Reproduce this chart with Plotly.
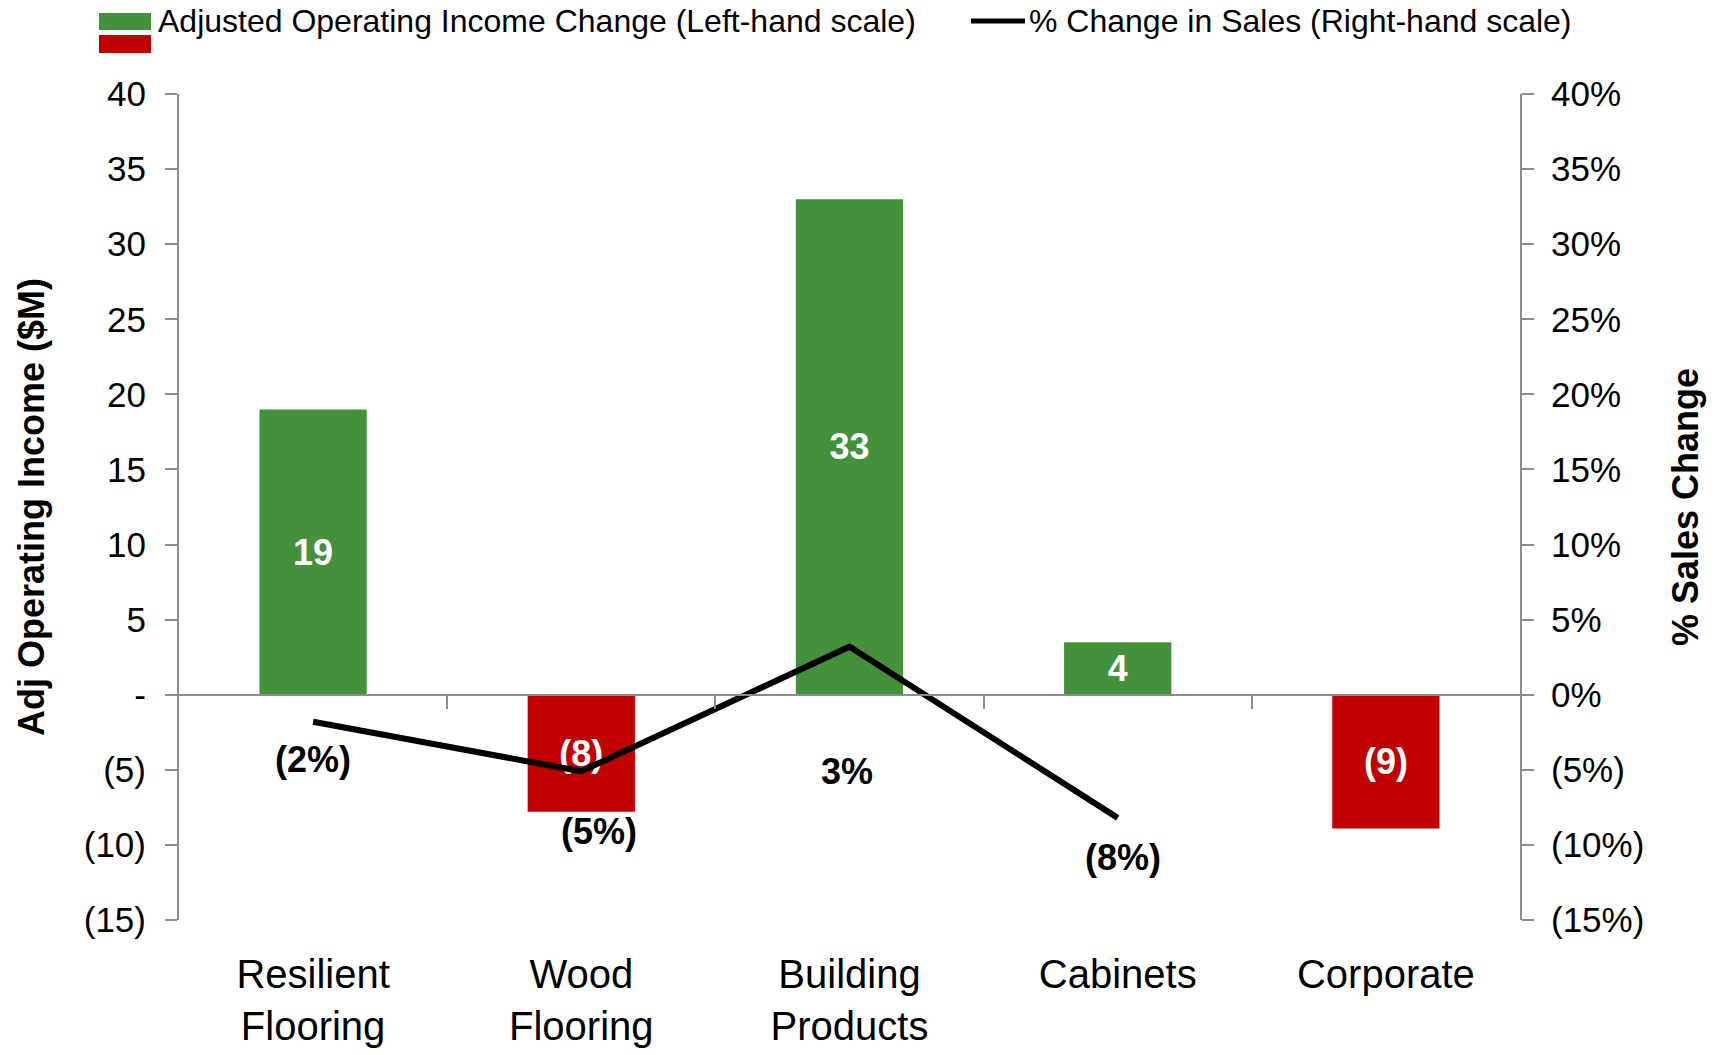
import plotly.graph_objects as go

# ---------------- data ----------------
categories = ["Resilient<br>Flooring", "Wood<br>Flooring", "Building<br>Products", "Cabinets", "Corporate"]
income_change = [19, -7.8, 33, 3.5, -8.9]            # $M, left-hand scale
sales_categories = categories[:4]
sales_change_pct = [-1.8, -5.1, 3.2, -8.2]          # %, right-hand scale

left_tickvals = [40, 35, 30, 25, 20, 15, 10, 5, 0, -5, -10, -15]
left_ticktext = ["40", "35", "30", "25", "20", "15", "10", "5", "-", "(5)", "(10)", "(15)"]
right_tickvals = [40, 35, 30, 25, 20, 15, 10, 5, 0, -5, -10, -15]
right_ticktext = ["40%", "35%", "30%", "25%", "20%", "15%", "10%", "5%", "0%", "(5%)", "(10%)", "(15%)"]

legend_bar_text = "Adjusted Operating Income Change (Left-hand scale)"
legend_line_text = "% Change in Sales (Right-hand scale)"
left_title = "Adj Operating Income ($M)"
right_title = "% Sales Change"

# ---------------- style ----------------
GREEN = "#43913A"
RED = "#C00000"
GRAY = "#8C8C8C"
FONT = "Liberation Sans, Arial, Helvetica, sans-serif"
W, H = 1723, 1055
L, R, T, B = 179, 203, 94, 135
Y_MIN, Y_MAX = -15, 40

# pixel offsets for the % labels (xshift, yshift)
pct_label_offsets = [(0, -38), (18, -60), (-3, -125), (5, -40)]


def fmt_num(v):
    r = round(v)
    return f"({abs(r)})" if r < 0 else f"{r}"


def fmt_pct(v):
    r = round(v)
    return f"({abs(r)}%)" if r < 0 else f"{r}%"


def px_x(px):
    return (px - L) / (W - L - R)


def px_y(py):
    return (H - B - py) / (H - T - B)


bar_colors = [GREEN if v >= 0 else RED for v in income_change]

fig = go.Figure()

fig.add_trace(go.Bar(
    x=categories, y=income_change,
    marker=dict(color=bar_colors, line=dict(width=0)),
    width=0.4,
    text=[fmt_num(v) for v in income_change],
    textposition="inside", insidetextanchor="middle",
    textfont=dict(family=FONT, size=36, color="white", weight="bold"),
    textangle=0,
    showlegend=False, hoverinfo="skip",
))

fig.add_trace(go.Scatter(
    x=sales_categories, y=sales_change_pct, yaxis="y2",
    mode="lines", line=dict(color="black", width=6),
    showlegend=False, hoverinfo="skip",
))

# empty trace to make the zero-crossing category axis render
fig.add_trace(go.Scatter(x=[None], y=[None], xaxis="x2", mode="lines", showlegend=False, hoverinfo="skip"))

annotations = []
for cat, v, (dx, dy) in zip(sales_categories, sales_change_pct, pct_label_offsets):
    annotations.append(dict(
        x=cat, y=v, xref="x", yref="y2", text=fmt_pct(v), showarrow=False,
        xshift=dx, yshift=dy,
        font=dict(family=FONT, size=36, color="black", weight="bold"),
    ))

# axis titles
annotations.append(dict(
    x=px_x(31), y=0.5, xref="paper", yref="paper", text=left_title, showarrow=False,
    textangle=-90, font=dict(family=FONT, size=36, color="black", weight="bold"),
    xanchor="center", yanchor="middle",
))
annotations.append(dict(
    x=px_x(1685), y=0.5, xref="paper", yref="paper", text=right_title, showarrow=False,
    textangle=-90, font=dict(family=FONT, size=36, color="black", weight="bold"),
    xanchor="center", yanchor="middle",
))

# legend texts
annotations.append(dict(
    x=px_x(156), y=px_y(21), xref="paper", yref="paper", text=legend_bar_text, showarrow=False,
    xanchor="left", yanchor="middle", font=dict(family=FONT, size=32, color="black"),
))
annotations.append(dict(
    x=px_x(1027), y=px_y(21), xref="paper", yref="paper", text=legend_line_text, showarrow=False,
    xanchor="left", yanchor="middle", font=dict(family=FONT, size=32, color="black"),
))

shapes = [
    dict(type="rect", xref="paper", yref="paper", x0=px_x(99), x1=px_x(151), y0=px_y(30), y1=px_y(13),
         fillcolor=GREEN, line=dict(width=0)),
    dict(type="rect", xref="paper", yref="paper", x0=px_x(99), x1=px_x(151), y0=px_y(53), y1=px_y(35),
         fillcolor=RED, line=dict(width=0)),
    dict(type="line", xref="paper", yref="paper", x0=px_x(971), x1=px_x(1025), y0=px_y(21), y1=px_y(21),
         line=dict(color="black", width=5)),
]

zero_pos = (0 - Y_MIN) / (Y_MAX - Y_MIN)

fig.update_layout(
    width=W, height=H,
    margin=dict(l=L, r=R, t=T, b=B, pad=0, autoexpand=False),
    paper_bgcolor="white", plot_bgcolor="white",
    font=dict(family=FONT, color="black"),
    showlegend=False,
    bargap=0.6,
    xaxis=dict(
        type="category", range=[-0.5, 4.5], automargin=False,
        showline=False, showgrid=False, zeroline=False, ticks="",
        tickfont=dict(family=FONT, size=40, color="black"),
        ticklabelstandoff=27,
        fixedrange=True,
    ),
    xaxis2=dict(
        overlaying="x", anchor="free", position=zero_pos, automargin=False,
        range=[-0.5, 4.5], showline=True, linecolor=GRAY, linewidth=2,
        ticks="outside", tickvals=[0.5, 1.5, 2.5, 3.5], ticklen=13, tickwidth=2, tickcolor=GRAY,
        showticklabels=False, showgrid=False, zeroline=False,
    ),
    yaxis=dict(
        range=[Y_MIN, Y_MAX], tickvals=left_tickvals, ticktext=left_ticktext, automargin=False,
        showline=True, linecolor=GRAY, linewidth=2,
        ticks="outside", ticklen=12, tickwidth=2, tickcolor=GRAY,
        showgrid=False, zeroline=False,
        tickfont=dict(family=FONT, size=35, color="black"),
        ticklabelstandoff=12,
    ),
    yaxis2=dict(
        overlaying="y", side="right", anchor="x", automargin=False,
        range=[Y_MIN, Y_MAX], tickvals=right_tickvals, ticktext=right_ticktext,
        showline=True, linecolor=GRAY, linewidth=2,
        ticks="outside", ticklen=12, tickwidth=2, tickcolor=GRAY,
        showgrid=False, zeroline=False,
        tickfont=dict(family=FONT, size=35, color="black"),
        ticklabelstandoff=10,
    ),
    annotations=annotations,
    shapes=shapes,
)

fig.write_html("out.html")
